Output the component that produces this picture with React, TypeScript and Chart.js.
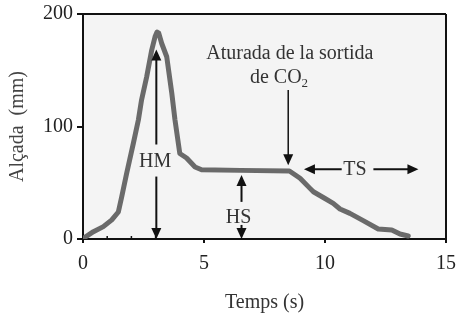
import React, { useEffect, useRef } from "react";
import { Chart, registerables } from "chart.js";

Chart.register(...registerables);

// Curve: time (s) vs height (mm)
const timeS = [0.08, 0.43, 0.84, 1.19, 1.46, 1.6, 1.8, 2.08, 2.29, 2.42, 2.63, 2.84, 2.98, 3.06, 3.13, 3.25, 3.46, 3.67, 3.8, 4.0, 4.28, 4.63, 4.9, 6.5, 8.53, 8.97, 9.38, 9.52, 10.0, 10.34, 10.62, 11.03, 11.58, 12.2, 12.76, 13.1, 13.44];
const heightMm = [1.5, 6.5, 11, 17, 24, 37.6, 58, 85, 106, 123.6, 144, 168, 180, 184, 183, 174, 162, 129.5, 106, 76, 72, 64, 61.5, 61, 60.5, 54, 45, 42, 36, 31.7, 26.7, 22.8, 16.3, 8.9, 8, 4.4, 2.7];

const xTickValues = [0, 5, 10, 15];
const yTickValues = [0, 100, 200];
const xMinorTicks = [1, 2, 3];

const xTitle = "Temps (s)";
const yTitle = "Alçada  (mm)";

// Annotation anchors (data units)
const hmArrow = { x: 3.03, top: 168.5, upperEnd: 84, lowerStart: 55.5, bottom: 0, labelX: 2.98, labelY: 68.5 };
const hsArrow = { x: 6.55, top: 57, upperEnd: 33, lowerStart: 12.5, bottom: 0, labelX: 6.43, labelY: 19.3 };
const tsArrow = { y: 62, left: 9.13, leftEnd: 10.69, rightStart: 12.0, right: 13.86, labelX: 11.24 };
const stopArrow = { x: 8.48, from: 132.4, to: 65.5 };
const stopLabel1 = { text: "Aturada de la sortida", x: 8.55, y: 159.6 };
const stopLabel2 = { text: "de CO", sub: "2", x: 8.1, y: 138.4 };

const FONT = '"Liberation Serif", "Times New Roman", serif';

function head(ctx: CanvasRenderingContext2D, x: number, y: number, dir: string) {
  const L = 11, W = 5;
  ctx.beginPath();
  ctx.moveTo(x, y);
  if (dir === "up") { ctx.lineTo(x - W, y + L); ctx.lineTo(x + W, y + L); }
  if (dir === "down") { ctx.lineTo(x - W, y - L); ctx.lineTo(x + W, y - L); }
  if (dir === "left") { ctx.lineTo(x + L, y - W); ctx.lineTo(x + L, y + W); }
  if (dir === "right") { ctx.lineTo(x - L, y - W); ctx.lineTo(x - L, y + W); }
  ctx.closePath();
  ctx.fill();
}

function seg(ctx: CanvasRenderingContext2D, x1: number, y1: number, x2: number, y2: number) {
  ctx.beginPath();
  ctx.moveTo(x1, y1);
  ctx.lineTo(x2, y2);
  ctx.stroke();
}

const decorPlugin = {
  id: "decor",
  beforeDraw(chart: any) {
    const { ctx, chartArea: a } = chart;
    ctx.save();
    ctx.fillStyle = "#f4f4f4";
    ctx.fillRect(a.left, a.top, a.right - a.left, a.bottom - a.top);
    ctx.restore();
  },
  afterDraw(chart: any) {
    const { ctx, chartArea: a } = chart;
    const xs = chart.scales.x, ys = chart.scales.y;
    const X = (v: number) => xs.getPixelForValue(v);
    const Y = (v: number) => ys.getPixelForValue(v);
    ctx.save();
    // frame top/right
    ctx.strokeStyle = "#111";
    ctx.lineWidth = 2;
    seg(ctx, a.left, a.top, a.right, a.top);
    seg(ctx, a.right, a.top, a.right, a.bottom);

    // minor ticks
    ctx.lineWidth = 1.5;
    xMinorTicks.forEach((v) => seg(ctx, X(v), a.bottom, X(v), a.bottom - 3));

    ctx.strokeStyle = "#111";
    ctx.fillStyle = "#111";
    ctx.lineWidth = 2;
    // HM
    let x = X(hmArrow.x);
    seg(ctx, x, Y(hmArrow.top) + 8, x, Y(hmArrow.upperEnd));
    head(ctx, x, Y(hmArrow.top), "up");
    seg(ctx, x, Y(hmArrow.lowerStart), x, Y(hmArrow.bottom) - 8);
    head(ctx, x, Y(hmArrow.bottom), "down");
    // HS
    x = X(hsArrow.x);
    seg(ctx, x, Y(hsArrow.top) + 8, x, Y(hsArrow.upperEnd));
    head(ctx, x, Y(hsArrow.top), "up");
    seg(ctx, x, Y(hsArrow.lowerStart), x, Y(hsArrow.bottom) - 8);
    head(ctx, x, Y(hsArrow.bottom), "down");
    // TS
    const ty = Y(tsArrow.y);
    seg(ctx, X(tsArrow.left) + 8, ty, X(tsArrow.leftEnd), ty);
    head(ctx, X(tsArrow.left), ty, "left");
    seg(ctx, X(tsArrow.rightStart), ty, X(tsArrow.right) - 8, ty);
    head(ctx, X(tsArrow.right), ty, "right");
    // Stop arrow
    x = X(stopArrow.x);
    ctx.lineWidth = 1.5;
    seg(ctx, x, Y(stopArrow.from), x, Y(stopArrow.to) - 8);
    head(ctx, x, Y(stopArrow.to), "down");

    // Labels
    ctx.fillStyle = "#333";
    ctx.font = `20px ${FONT}`;
    ctx.textAlign = "center";
    ctx.textBaseline = "middle";
    ctx.fillText("HM", X(hmArrow.labelX), Y(hmArrow.labelY));
    ctx.fillText("HS", X(hsArrow.labelX), Y(hsArrow.labelY));
    ctx.fillText("TS", X(tsArrow.labelX), ty);

    ctx.textBaseline = "alphabetic";
    ctx.fillText(stopLabel1.text, X(stopLabel1.x), Y(stopLabel1.y));
    // second line with subscript
    ctx.font = `20px ${FONT}`;
    const w1 = ctx.measureText(stopLabel2.text).width;
    ctx.font = `13px ${FONT}`;
    const w2 = ctx.measureText(stopLabel2.sub).width;
    const cx = X(stopLabel2.x);
    const startX = cx - (w1 + w2) / 2;
    const by = Y(stopLabel2.y);
    ctx.textAlign = "left";
    ctx.font = `20px ${FONT}`;
    ctx.fillText(stopLabel2.text, startX, by);
    ctx.font = `13px ${FONT}`;
    ctx.fillText(stopLabel2.sub, startX + w1, by + 4);
    ctx.restore();
  },
};

export default function App() {
  const ref = useRef<HTMLCanvasElement | null>(null);
  useEffect(() => {
    if (!ref.current) return;
    const chart = new Chart(ref.current, {
      type: "line",
      data: {
        datasets: [
          {
            data: timeS.map((t, i) => ({ x: t, y: heightMm[i] })),
            borderColor: "#6a6a6a",
            borderWidth: 5,
            pointRadius: 0,
            tension: 0,
            fill: false,
            borderJoinStyle: "round",
            borderCapStyle: "round",
          },
        ],
      },
      options: {
        responsive: false,
        animation: false,
        events: [],
        layout: { padding: { left: 0, top: 14, right: 11, bottom: 0 } },
        plugins: { legend: { display: false }, tooltip: { enabled: false } },
        scales: {
          x: {
            type: "linear",
            min: 0,
            max: 15,
            afterBuildTicks: (s: any) => { s.ticks = xTickValues.map((v) => ({ value: v })); },
            afterFit: (s: any) => { s.height = 74; s.paddingLeft = 0; s.paddingRight = 0; },
            ticks: { color: "#222", font: { family: FONT, size: 20 }, padding: 9, maxRotation: 0 },
            grid: { drawOnChartArea: false, drawTicks: true, tickLength: 4, color: "#111", lineWidth: 2 },
            border: { display: true, color: "#111", width: 2 },
            title: { display: true, text: xTitle, color: "#333", font: { family: FONT, size: 20 }, padding: { top: 0, bottom: -2 } },
          },
          y: {
            type: "linear",
            min: 0,
            max: 200,
            afterBuildTicks: (s: any) => { s.ticks = yTickValues.map((v) => ({ value: v })); },
            afterFit: (s: any) => { s.width = 83; s.paddingTop = 0; s.paddingBottom = 0; },
            ticks: { color: "#222", font: { family: FONT, size: 20 }, padding: 4 },
            grid: { drawOnChartArea: false, drawTicks: true, tickLength: 6, color: "#111", lineWidth: 2 },
            border: { display: true, color: "#111", width: 2 },
            title: { display: true, text: yTitle, color: "#444", font: { family: FONT, size: 20 }, padding: { top: 6, bottom: 0 } },
          },
        },
      },
      plugins: [decorPlugin],
    } as any);
    return () => chart.destroy();
  }, []);
  return (
    <div style={{ position: "fixed", left: 0, top: 0, width: 457, height: 313, background: "#fff" }}>
      <canvas ref={ref} width={457} height={313} style={{ display: "block" }} />
    </div>
  );
}
